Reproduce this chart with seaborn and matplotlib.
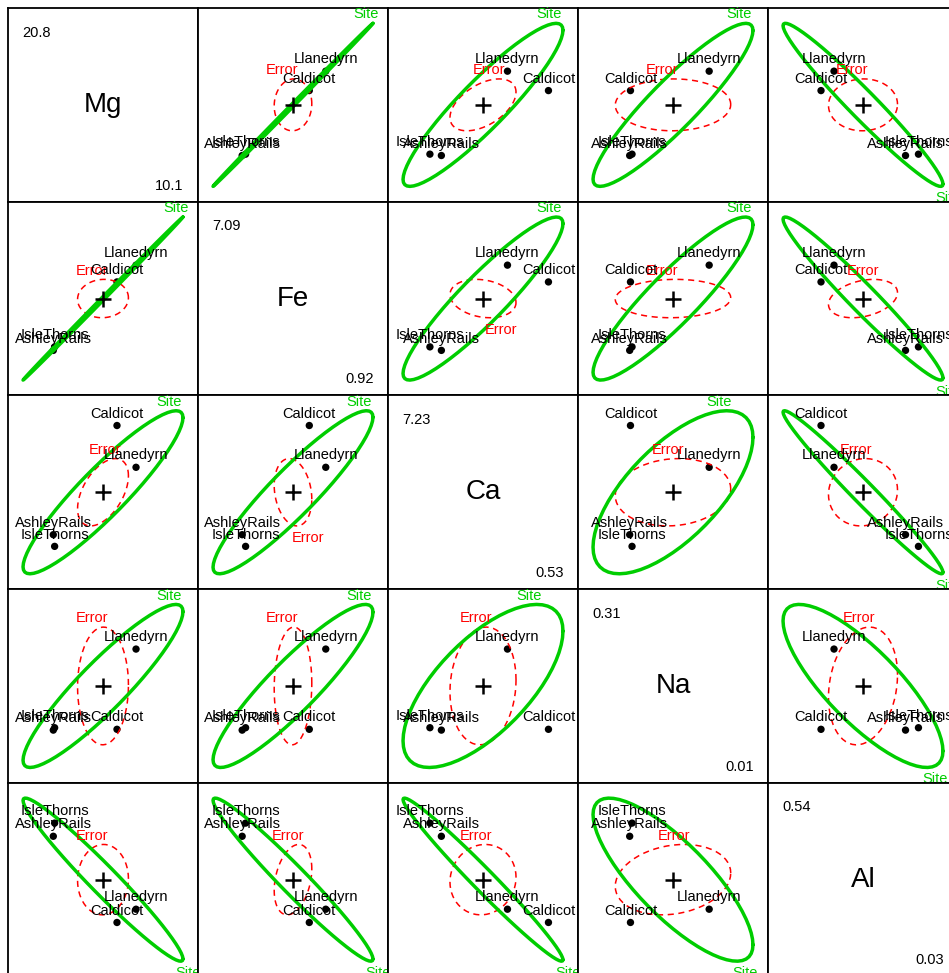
import numpy as np
import pandas as pd
import seaborn as sns
import matplotlib
matplotlib.use("Agg")
import matplotlib.pyplot as plt

# Variables in panel order, with the range labels printed on the diagonal
variables = ['Mg', 'Fe', 'Ca', 'Na', 'Al']
range_high = ['20.8', '7.09', '7.23', '0.31', '0.54']
range_low = ['10.1', '0.92', '0.53', '0.01', '0.03']

# Site means (points) and group sizes
sites = ['AshleyRails', 'Caldicot', 'IsleThorns', 'Llanedyrn']
site_n = [5, 2, 5, 14]
mean_Mg = [0.606, 3.855, 0.674, 4.826]
mean_Fe = [1.512, 5.415, 1.712, 6.372]
mean_Ca = [0.052, 0.295, 0.026, 0.202]
mean_Na = [0.048, 0.050, 0.054, 0.251]
mean_Al = [17.320, 11.700, 18.180, 12.564]

# Error covariance (E / dfe), rows/cols in `variables` order
ecov_Mg = [0.70135, 0.02396, 0.01979, 0.00126, 0.02764]
ecov_Fe = [0.02396, 0.49777, -0.00705, 0.00303, 0.32182]
ecov_Ca = [0.01979, -0.00705, 0.00234, 0.00046, 0.00484]
ecov_Na = [0.00126, 0.00303, 0.00046, 0.00906, 0.02677]
ecov_Al = [0.02764, 0.32182, 0.00484, 0.02677, 2.19492]

means = pd.DataFrame({'Mg': mean_Mg, 'Fe': mean_Fe, 'Ca': mean_Ca,
                      'Na': mean_Na, 'Al': mean_Al}, index=sites)
counts = np.array(site_n)
E_s = np.array([ecov_Mg, ecov_Fe, ecov_Ca, ecov_Na, ecov_Al])

M = means[variables].to_numpy()
gmean = (counts[:, None] * M).sum(axis=0) / counts.sum()
Hm = np.zeros((5, 5))
for k in range(len(sites)):
    d = (M[k] - gmean)[:, None]
    Hm += counts[k] * (d @ d.T)

# heplot scaling: "evidence" size (Roy), level 0.68
dfe, dfh, p = 22, 3, 5
df1 = max(p, dfh)
df2 = dfe - df1 + dfh
lam = df1 / df2 * 2.7109
radius = np.sqrt(2 * (dfe / 2) * (0.32 ** (-2 / dfe) - 1))
H_s = Hm / dfe / lam


def ellipse(center, S, r, seg=60):
    ang = np.arange(seg + 1) * 2 * np.pi / seg
    circ = r * np.column_stack([np.cos(ang), np.sin(ang)])
    L = np.linalg.cholesky(S)
    return center + circ @ L.T


sns.set_theme(style="white")
plt.rcParams['font.family'] = ['Liberation Sans', 'DejaVu Sans']
plt.rcParams['text.color'] = 'black'

W, H = 949, 973
pw, ph = 190, 193.7
green, red = '#00CD00', '#FF0000'
fig = plt.figure(figsize=(W / 100, H / 100), dpi=100)

for i in range(5):
    for j in range(5):
        ax = fig.add_axes([(8 + pw * j) / W, 1 - (8 + ph * (i + 1)) / H, pw / W, ph / H])
        ax.set_xticks([])
        ax.set_yticks([])
        for sp in ax.spines.values():
            sp.set_color('black')
            sp.set_linewidth(1.3)
        if i == j:
            ax.set_xlim(0, 1)
            ax.set_ylim(0, 1)
            ax.text(0.5, 0.5, variables[i], fontsize=20, ha='center', va='center', color='black')
            ax.text(0.075, 0.852, range_high[i], fontsize=10.5, ha='left', va='baseline',
                    color='black')
            ax.text(0.925, 0.062, range_low[i], fontsize=10.5, ha='right', va='baseline',
                    color='black')
            continue
        idx = [j, i]
        c = gmean[idx]
        e_ell = ellipse(c, E_s[np.ix_(idx, idx)], radius)
        h_ell = ellipse(c, H_s[np.ix_(idx, idx)], radius)
        allp = np.vstack([e_ell, h_ell])
        lims = []
        for k in range(2):
            lo, hi = allp[:, k].min(), allp[:, k].max()
            rg = hi - lo
            lo, hi = lo - 0.05 * rg, hi + 0.05 * rg
            rg = hi - lo
            lims.append((lo - 0.04 * rg, hi + 0.04 * rg))
        ax.set_xlim(*lims[0])
        ax.set_ylim(*lims[1])

        ax.plot(e_ell[:, 0], e_ell[:, 1], color=red, lw=1.1, ls=(0, (4, 3)))
        ax.plot(h_ell[:, 0], h_ell[:, 1], color=green, lw=2.5, solid_joinstyle='round')

        # ellipse labels, placed like heplots' label.ellipse
        for ell, lab, col in [(e_ell, 'Error', red), (h_ell, 'Site', green)]:
            if np.corrcoef(ell[:, 0], ell[:, 1])[0, 1] >= 0:
                k = np.argmax(ell[:, 1])
                ax.annotate(lab, ell[k], xytext=(4, 3.5), textcoords='offset points',
                            ha='right', va='baseline', color=col, fontsize=10.5,
                            annotation_clip=False)
            else:
                k = np.argmin(ell[:, 1])
                ax.annotate(lab, ell[k], xytext=(-4, -3.5), textcoords='offset points',
                            ha='left', va='top', color=col, fontsize=10.5,
                            annotation_clip=False)

        mdf = pd.DataFrame({'x': means[variables[j]], 'y': means[variables[i]],
                            'Site': means.index})
        sns.scatterplot(data=mdf, x='x', y='y', color='black', s=28, edgecolor='none',
                        ax=ax, legend=False)
        for _, r in mdf.iterrows():
            ax.annotate(r['Site'], (r['x'], r['y']), xytext=(0, 3.5), textcoords='offset points',
                        ha='center', va='bottom', fontsize=10.5, color='black')
        ax.plot([c[0]], [c[1]], marker='+', color='black', ms=12, mew=1.8)
        ax.set_xlabel('')
        ax.set_ylabel('')

fig.savefig('out.png', dpi=100)
